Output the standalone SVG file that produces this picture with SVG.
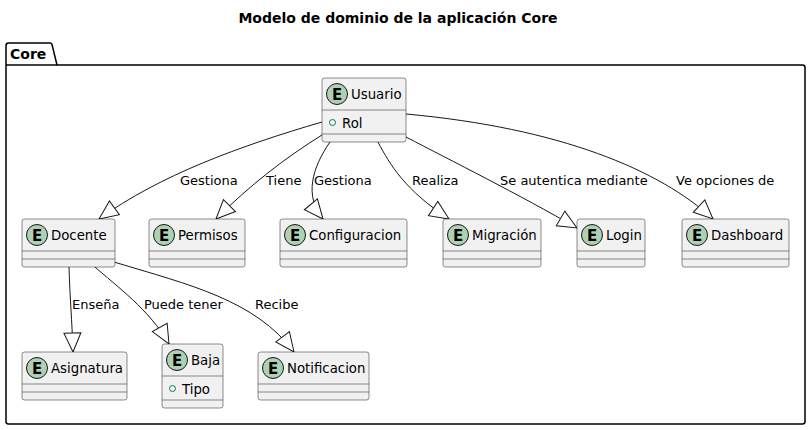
<svg xmlns="http://www.w3.org/2000/svg" width="811" height="430" viewBox="0 0 811 430">
<defs>
<style>
.box{fill:#F1F1F1;stroke:#181818;stroke-width:0.5}
.div{stroke:#181818;stroke-width:0.5}
.ec{fill:#ADD1B2;stroke:#181818;stroke-width:1}
.el{font-family:"DejaVu Sans",sans-serif;font-size:15px;font-weight:bold;fill:#000;text-anchor:middle}
.cn{font-family:"DejaVu Sans",sans-serif;font-size:13.3px;fill:#000}
.at{fill:none;stroke:#038048;stroke-width:1}
.lbl{font-family:"DejaVu Sans",sans-serif;font-size:13px;fill:#000}
.edge{fill:none;stroke:#181818;stroke-width:1}
</style>
<marker id="ext" markerUnits="userSpaceOnUse" viewBox="-21 -11 23 22" markerWidth="23" markerHeight="22" refX="0" refY="0" orient="auto">
<path d="M0,0 L-19,-8.5 L-19,8.5 Z" fill="#FFFFFF" stroke="#181818" stroke-width="1"/>
</marker>
</defs>
<rect width="811" height="430" fill="#FFFFFF"/>
<text x="398" y="23" font-family="DejaVu Sans,sans-serif" font-size="14" font-weight="bold" text-anchor="middle">Modelo de dominio de la aplicación Core</text>
<g id="pkg-core">
<path d="M8.5,43 L50,43 Q51.5,43 52,44.5 L57,65 L802.5,65 Q805,65 805,67.5 L805,421.5 Q805,424 802.5,424 L8.5,424 Q6,424 6,421.5 L6,45.5 Q6,43 8.5,43 Z" fill="#FFFFFF" stroke="#000000" stroke-width="1.5"/>
<line x1="6" y1="65" x2="57" y2="65" stroke="#000000" stroke-width="1.5"/>
<text x="10" y="59" font-family="DejaVu Sans,sans-serif" font-size="14" font-weight="bold">Core</text>
</g>
<g id="connectors">
<path class="edge" marker-end="url(#ext)" d="M322,122 C240,146 160,175 99,219"/>
<text class="lbl" x="180" y="185">Gestiona</text>
<path class="edge" marker-end="url(#ext)" d="M322,135 C285,158 250,185 216,219"/>
<text class="lbl" x="266" y="185">Tiene</text>
<path class="edge" marker-end="url(#ext)" d="M330,142 C312,168 304,196 323,219"/>
<text class="lbl" x="314" y="185">Gestiona</text>
<path class="edge" marker-end="url(#ext)" d="M378,142 C390,165 405,190 449,219"/>
<text class="lbl" x="412" y="185">Realiza</text>
<path class="edge" marker-end="url(#ext)" d="M406,137 C450,160 520,195 577,228"/>
<text class="lbl" x="500" y="185">Se autentica mediante</text>
<path class="edge" marker-end="url(#ext)" d="M406,114 C560,128 660,170 713,219"/>
<text class="lbl" x="676" y="185">Ve opciones de</text>
<path class="edge" marker-end="url(#ext)" d="M69,267 C70,300 72,320 73,352"/>
<text class="lbl" x="72" y="309">Enseña</text>
<path class="edge" marker-end="url(#ext)" d="M95,267 C115,285 150,310 169,344"/>
<text class="lbl" x="144" y="309">Puede tener</text>
<path class="edge" marker-end="url(#ext)" d="M114,262 C190,285 255,300 294,352"/>
<text class="lbl" x="255" y="309">Recibe</text>
</g>
<g id="usuario">
<rect class="box" x="322" y="78" width="84" height="64" rx="2.5"/>
<circle class="ec" cx="337" cy="94" r="10.5"/>
<text class="el" x="337" y="99.5">E</text>
<text class="cn" x="351" y="99">Usuario</text>
<line class="div" x1="322" y1="110" x2="406" y2="110"/>
<circle class="at" cx="332.5" cy="122.5" r="3"/>
<text class="cn" x="342" y="127.5">Rol</text>
<line class="div" x1="322" y1="134" x2="406" y2="134"/>
</g>
<g id="docente">
<rect class="box" x="22" y="219" width="93" height="48" rx="2.5"/>
<circle class="ec" cx="37" cy="235" r="10.5"/>
<text class="el" x="37" y="240.5">E</text>
<text class="cn" x="51" y="240">Docente</text>
<line class="div" x1="22" y1="251" x2="115" y2="251"/>
<line class="div" x1="22" y1="259" x2="115" y2="259"/>
</g>
<g id="permisos">
<rect class="box" x="149" y="219" width="96" height="48" rx="2.5"/>
<circle class="ec" cx="164" cy="235" r="10.5"/>
<text class="el" x="164" y="240.5">E</text>
<text class="cn" x="178" y="240">Permisos</text>
<line class="div" x1="149" y1="251" x2="245" y2="251"/>
<line class="div" x1="149" y1="259" x2="245" y2="259"/>
</g>
<g id="configuracion">
<rect class="box" x="280" y="219" width="127" height="48" rx="2.5"/>
<circle class="ec" cx="295" cy="235" r="10.5"/>
<text class="el" x="295" y="240.5">E</text>
<text class="cn" x="309" y="240">Configuracion</text>
<line class="div" x1="280" y1="251" x2="407" y2="251"/>
<line class="div" x1="280" y1="259" x2="407" y2="259"/>
</g>
<g id="migracion">
<rect class="box" x="443" y="219" width="98" height="48" rx="2.5"/>
<circle class="ec" cx="458" cy="235" r="10.5"/>
<text class="el" x="458" y="240.5">E</text>
<text class="cn" x="472" y="240">Migración</text>
<line class="div" x1="443" y1="251" x2="541" y2="251"/>
<line class="div" x1="443" y1="259" x2="541" y2="259"/>
</g>
<g id="login">
<rect class="box" x="577" y="219" width="68" height="48" rx="2.5"/>
<circle class="ec" cx="592" cy="235" r="10.5"/>
<text class="el" x="592" y="240.5">E</text>
<text class="cn" x="606" y="240">Login</text>
<line class="div" x1="577" y1="251" x2="645" y2="251"/>
<line class="div" x1="577" y1="259" x2="645" y2="259"/>
</g>
<g id="dashboard">
<rect class="box" x="682" y="219" width="107" height="48" rx="2.5"/>
<circle class="ec" cx="697" cy="235" r="10.5"/>
<text class="el" x="697" y="240.5">E</text>
<text class="cn" x="711" y="240">Dashboard</text>
<line class="div" x1="682" y1="251" x2="789" y2="251"/>
<line class="div" x1="682" y1="259" x2="789" y2="259"/>
</g>
<g id="asignatura">
<rect class="box" x="22" y="352" width="105" height="48" rx="2.5"/>
<circle class="ec" cx="37" cy="368" r="10.5"/>
<text class="el" x="37" y="373.5">E</text>
<text class="cn" x="51" y="373">Asignatura</text>
<line class="div" x1="22" y1="384" x2="127" y2="384"/>
<line class="div" x1="22" y1="392" x2="127" y2="392"/>
</g>
<g id="baja">
<rect class="box" x="162" y="344" width="61" height="64" rx="2.5"/>
<circle class="ec" cx="177" cy="360" r="10.5"/>
<text class="el" x="177" y="365.5">E</text>
<text class="cn" x="191" y="365">Baja</text>
<line class="div" x1="162" y1="376" x2="223" y2="376"/>
<circle class="at" cx="172.5" cy="388.5" r="3"/>
<text class="cn" x="182" y="393.5">Tipo</text>
<line class="div" x1="162" y1="400" x2="223" y2="400"/>
</g>
<g id="notificacion">
<rect class="box" x="258" y="352" width="111" height="48" rx="2.5"/>
<circle class="ec" cx="273" cy="368" r="10.5"/>
<text class="el" x="273" y="373.5">E</text>
<text class="cn" x="287" y="373">Notificacion</text>
<line class="div" x1="258" y1="384" x2="369" y2="384"/>
<line class="div" x1="258" y1="392" x2="369" y2="392"/>
</g>
</svg>
